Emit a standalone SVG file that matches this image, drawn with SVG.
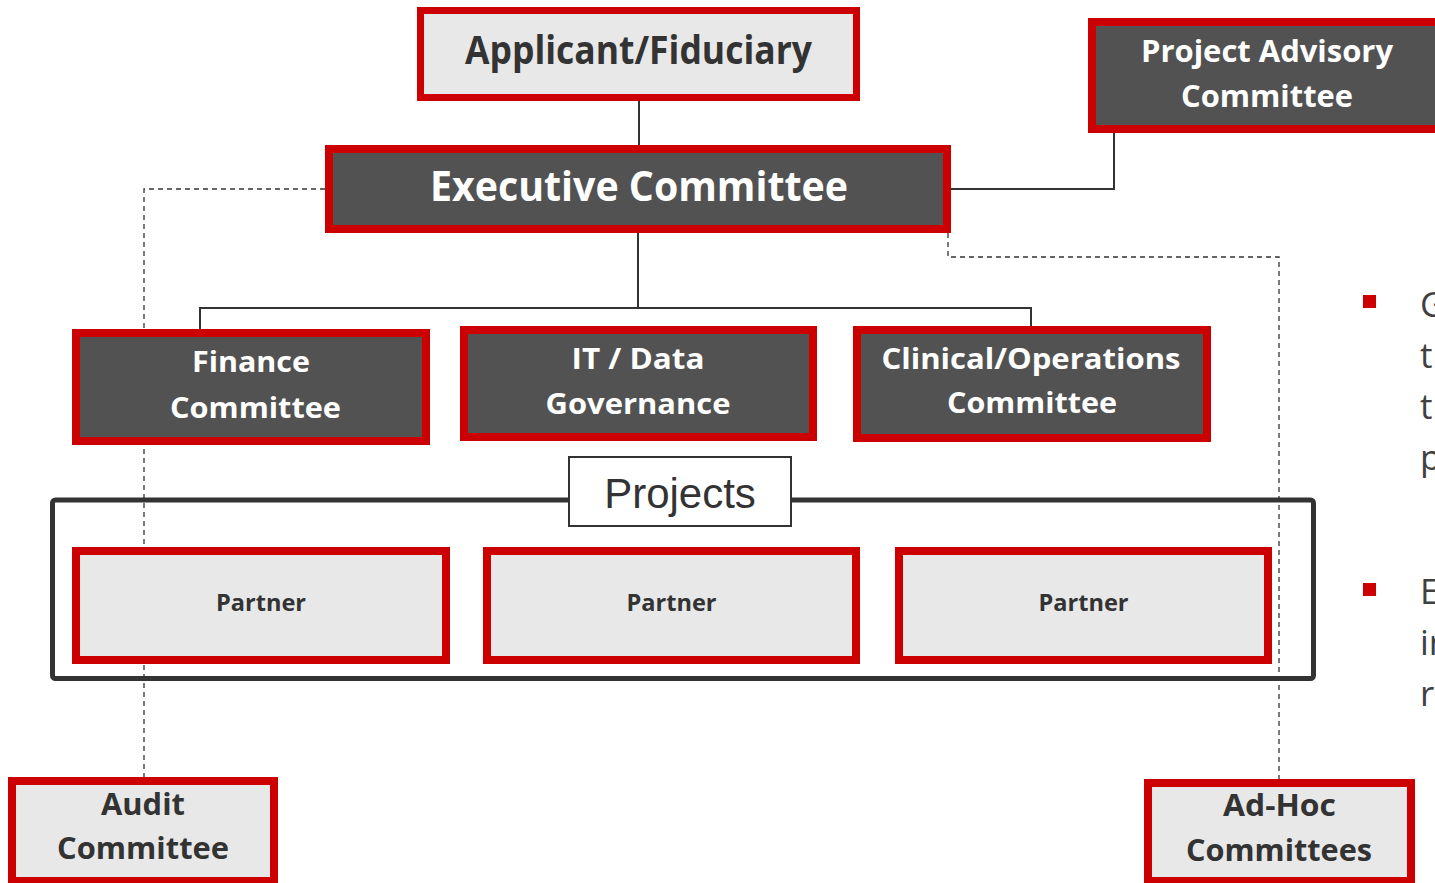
<svg xmlns="http://www.w3.org/2000/svg" width="1435" height="883" viewBox="0 0 1435 883">
  <style>
    .box-dark { fill: #525252; stroke: #CC0000; stroke-width: 8; }
    .box-light { fill: #E8E8E8; stroke: #CC0000; stroke-width: 8; }
    .t-white { font-family: "Open Sans", "DejaVu Sans", sans-serif; font-weight: 700; fill: #FFFFFF; text-anchor: middle; }
    .t-dark { font-family: "Open Sans", "DejaVu Sans", sans-serif; font-weight: 700; fill: #333333; text-anchor: middle; }
    .solid { fill: none; stroke: #333333; stroke-width: 2; }
    .dashed { fill: none; stroke: #333333; stroke-width: 1.3; stroke-dasharray: 5 4; }
    .bullet-text { font-family: "Open Sans", "DejaVu Sans", sans-serif; font-size: 35px; fill: #404040; }
  </style>
  <rect width="1435" height="883" fill="#FFFFFF"/>

  <!-- connectors, drawn beneath the boxes -->
  <g id="connectors">
    <path class="solid" d="M639,101 V145"/>
    <path class="solid" d="M638,233 V308"/>
    <path class="solid" d="M200,329 V308 H1031 V326"/>
    <path class="solid" d="M951,189 H1114 V126 H1279"/>
    <path class="dashed" d="M325,189 H144 V778"/>
    <path class="dashed" d="M948,233 V257 H1279 V780"/>
  </g>

  <!-- projects container -->
  <g id="projects">
    <rect x="52.5" y="500" width="1261" height="178.5" rx="3" fill="none" stroke="#333333" stroke-width="5"/>
    <rect x="569" y="457" width="222" height="69" fill="#FFFFFF" stroke="#333333" stroke-width="2"/>
    <text x="680" y="508" font-family="'Liberation Sans', Arial, sans-serif" font-size="42" fill="#333333" text-anchor="middle">Projects</text>
  </g>

  <g id="applicant">
    <rect x="420.5" y="10.5" width="436" height="87" fill="#E8E8E8" stroke="#CC0000" stroke-width="7"/>
    <text class="t-dark" x="638.5" y="64" font-size="39" textLength="347" lengthAdjust="spacingAndGlyphs">Applicant/Fiduciary</text>
  </g>

  <g id="project-advisory">
    <rect class="box-dark" x="1092" y="22" width="360" height="107"/>
    <text class="t-white" x="1267" y="62" font-size="30" textLength="252" lengthAdjust="spacingAndGlyphs">Project Advisory</text>
    <text class="t-white" x="1267" y="107" font-size="30" textLength="172" lengthAdjust="spacingAndGlyphs">Committee</text>
  </g>

  <g id="executive">
    <rect class="box-dark" x="329" y="149" width="618" height="80"/>
    <text class="t-white" x="639" y="201" font-size="41" textLength="418" lengthAdjust="spacingAndGlyphs">Executive Committee</text>
  </g>

  <g id="finance">
    <rect class="box-dark" x="76" y="333" width="350" height="108"/>
    <text class="t-white" x="251" y="372" font-size="29" textLength="118" lengthAdjust="spacingAndGlyphs">Finance</text>
    <text class="t-white" x="255.5" y="418" font-size="29" textLength="171" lengthAdjust="spacingAndGlyphs">Committee</text>
  </g>

  <g id="it-data">
    <rect class="box-dark" x="464" y="330" width="349" height="107"/>
    <text class="t-white" x="638" y="369" font-size="29" textLength="133" lengthAdjust="spacingAndGlyphs">IT / Data</text>
    <text class="t-white" x="638" y="414" font-size="29" textLength="185" lengthAdjust="spacingAndGlyphs">Governance</text>
  </g>

  <g id="clinical">
    <rect class="box-dark" x="857" y="330" width="350" height="108"/>
    <text class="t-white" x="1031" y="369" font-size="29" textLength="299" lengthAdjust="spacingAndGlyphs">Clinical/Operations</text>
    <text class="t-white" x="1032" y="413" font-size="29" textLength="170" lengthAdjust="spacingAndGlyphs">Committee</text>
  </g>

  <g id="partner-1">
    <rect class="box-light" x="76" y="551" width="370" height="109"/>
    <text class="t-dark" x="261" y="611" font-size="24" textLength="90" lengthAdjust="spacingAndGlyphs">Partner</text>
  </g>
  <g id="partner-2">
    <rect class="box-light" x="487" y="551" width="369" height="109"/>
    <text class="t-dark" x="671.5" y="611" font-size="24" textLength="90" lengthAdjust="spacingAndGlyphs">Partner</text>
  </g>
  <g id="partner-3">
    <rect class="box-light" x="899" y="551" width="369" height="109"/>
    <text class="t-dark" x="1083.5" y="611" font-size="24" textLength="90" lengthAdjust="spacingAndGlyphs">Partner</text>
  </g>

  <g id="audit">
    <rect class="box-light" x="12" y="781" width="262" height="100"/>
    <text class="t-dark" x="143" y="815" font-size="31" textLength="84" lengthAdjust="spacingAndGlyphs">Audit</text>
    <text class="t-dark" x="143" y="859" font-size="31" textLength="172" lengthAdjust="spacingAndGlyphs">Committee</text>
  </g>

  <g id="ad-hoc">
    <rect class="box-light" x="1148" y="783" width="263" height="98"/>
    <text class="t-dark" x="1279.5" y="816" font-size="31" textLength="113" lengthAdjust="spacingAndGlyphs">Ad-Hoc</text>
    <text class="t-dark" x="1279" y="861" font-size="31" textLength="186" lengthAdjust="spacingAndGlyphs">Committees</text>
  </g>

  <!-- side bullet list, running off the right edge -->
  <g id="bullets">
    <rect x="1363" y="295" width="13" height="13" fill="#CC0000"/>
    <text class="bullet-text" x="1420" y="317">G</text>
    <text class="bullet-text" x="1420" y="368">t</text>
    <text class="bullet-text" x="1420" y="419">t</text>
    <text class="bullet-text" x="1420" y="470">p</text>
    <rect x="1363" y="583" width="13" height="13" fill="#CC0000"/>
    <text class="bullet-text" x="1420" y="604">E</text>
    <text class="bullet-text" x="1420" y="655">in</text>
    <text class="bullet-text" x="1420" y="706">r</text>
  </g>
</svg>
